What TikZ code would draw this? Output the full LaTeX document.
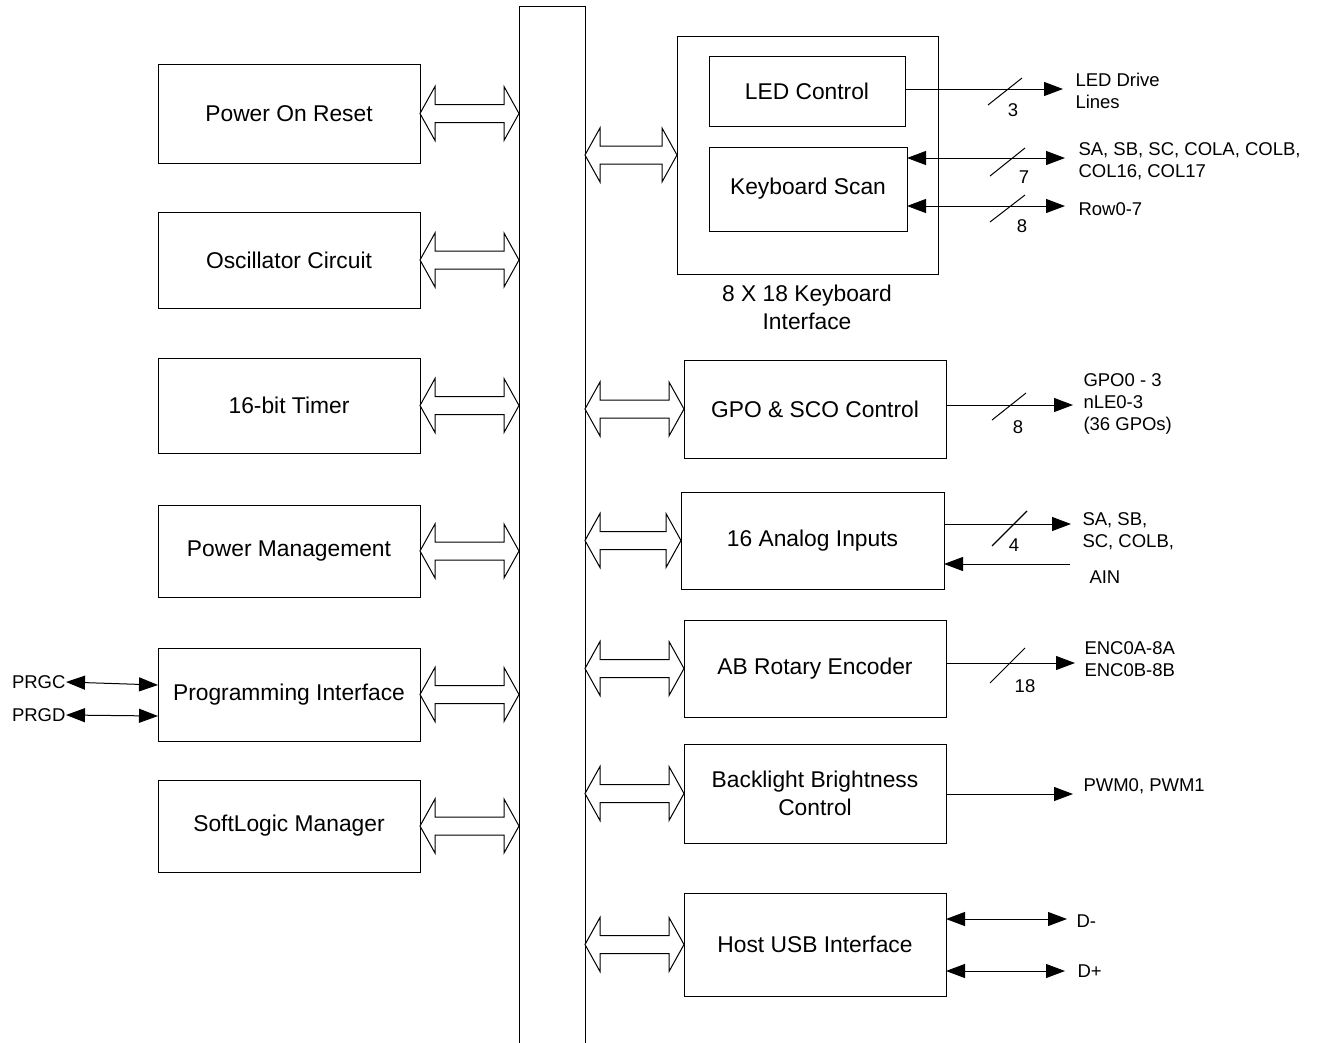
\documentclass[tikz,border=0pt]{standalone}
\usepackage{fontspec}
\setmainfont{Liberation Sans}
\usetikzlibrary{arrows.meta,calc}
\newcommand\hollowarrow[2]{%
  \draw[hollow] (#1) -- ++(15,-27) -- ++(0,18) -- ([shift={(-15,-9)}]#2) -- ++(0,-18) -- (#2)
    -- ++(-15,27) -- ++(0,-18) -- ([shift={(15,9)}]#1) -- ++(0,18) -- cycle;}
\begin{document}
\begin{tikzpicture}[x=1pt,y=-1pt, line width=1pt,
  box/.style={draw, inner sep=0pt, outer sep=0pt, anchor=north west, align=center,
    font=\fontsize{22.8}{28}\selectfont},
  lbl/.style={inner sep=0pt, anchor=west, align=left, font=\fontsize{18.5}{22}\selectfont},
  num/.style={inner sep=0pt, font=\fontsize{18.5}{22}\selectfont},
  hollow/.style={draw, fill=white, line width=1pt, line join=miter},
  sig/.style={-{Triangle[length=19pt,width=14pt]}},
  bsig/.style={{Triangle[length=19pt,width=14pt]}-{Triangle[length=19pt,width=14pt]}},
  slash/.style={line width=1pt}]
\useasboundingbox (0,0) rectangle (1320,1042);

% bus
\node[draw=none, inner sep=0pt, outer sep=0pt, minimum width=66pt, minimum height=1040pt, anchor=north west] (bus) at (519,6) {};
\draw (bus.south west) |- (bus.north east) -- (bus.south east);

% left blocks
\node[box, minimum width=262pt, minimum height=99pt] (por) at (158,64) {Power On Reset};
\node[box, minimum width=262pt, minimum height=96pt] (osc) at (158,212) {Oscillator Circuit};
\node[box, minimum width=262pt, minimum height=95pt] (tmr) at (158,358) {16-bit Timer};
\node[box, minimum width=262pt, minimum height=92pt] (pwr) at (158,505) {Power Management};
\node[box, minimum width=262pt, minimum height=93pt] (prg) at (158,648) {Programming Interface};
\node[box, minimum width=262pt, minimum height=92pt] (slm) at (158,780) {SoftLogic Manager};

% right blocks
\node[box, minimum width=261pt, minimum height=238pt] (kbd) at (677,36) {};
\node[box, minimum width=196pt, minimum height=70pt] (led) at (709,56) {LED Control};
\node[box, minimum width=198pt, minimum height=84pt] (kscan) at (709,147) {Keyboard Scan};
\node[align=center, inner sep=0pt, font=\fontsize{22.8}{28}\selectfont] (kbdlbl) at (807,307) {8 X 18 Keyboard\\Interface};
\node[box, minimum width=262pt, minimum height=98pt] (gpo) at (684,360) {GPO \& SCO Control};
\node[box, minimum width=263pt, minimum height=97pt] (ana) at (681,492) {16 Analog Inputs};
\node[box, minimum width=262pt, minimum height=97pt] (enc) at (684,620) {AB Rotary Encoder};
\node[box, minimum width=262pt, minimum height=99pt] (bl) at (684,744) {Backlight Brightness\\Control};
\node[box, minimum width=262pt, minimum height=103pt] (usb) at (684,893) {Host USB Interface};

% hollow bus arrows
\foreach \n in {por,osc,tmr,pwr,prg,slm}{
  \coordinate (\n-b) at (\n.east -| bus.west);
  \hollowarrow{\n.east}{\n-b}
}
\foreach \n in {kbd,gpo,ana,enc,bl,usb}{
  \coordinate (\n-b) at (\n.west -| bus.east);
  \hollowarrow{\n-b}{\n.west}
}

% LED drive lines
\coordinate (ledE) at (1063,89);
\draw[sig] (led.east |- ledE) -- (ledE);
\draw[slash] (988,105) -- (1022,78);
\node[num] (n3) at (1013,110) {3};
\node[lbl] (ledlbl) at (1075,91) {LED Drive\\Lines};

% keyboard scan lines
\coordinate (ks1) at (1065,158);
\draw[bsig] (kscan.east |- ks1) -- (ks1);
\draw[slash] (990,176) -- (1025,148);
\node[num] (n7) at (1024,177) {7};
\node[lbl] (kslbl) at (1078,161) {SA, SB, SC, COLA, COLB,\\COL16, COL17};
\coordinate (ks2) at (1065,206);
\draw[bsig] (kscan.east |- ks2) -- (ks2);
\draw[slash] (990,222) -- (1025,195);
\node[num] (n8a) at (1022,226) {8};
\node[lbl] (rowlbl) at (1078,209) {Row0-7};

% GPO
\coordinate (g1) at (1073,405);
\draw[sig] (gpo.east |- g1) -- (g1);
\draw[slash] (992,420) -- (1026,393);
\node[num] (n8b) at (1018,427) {8};
\node[lbl] (gpolbl) at (1083,404) {GPO0 - 3\\nLE0-3\\(36 GPOs)};

% Analog
\coordinate (a1) at (1071,524);
\draw[sig] (ana.east |- a1) -- (a1);
\draw[line width=1.3pt] (992,546) -- (1027,511);
\node[num] (n4) at (1014,545) {4};
\node[lbl] (analbl) at (1082,531) {SA, SB,\\SC, COLB,};
\coordinate (a2) at (1070,564);
\draw[sig] (a2) -- (ana.east |- a2);
\node[lbl] (ainlbl) at (1089,577) {AIN};

% Encoder
\coordinate (e1) at (1075,663);
\draw[sig] (enc.east |- e1) -- (e1);
\draw[slash] (990,683) -- (1025,648);
\node[num] (n18) at (1025,686) {18};
\node[lbl] (enclbl) at (1084,659) {ENC0A-8A\\ENC0B-8B};

% Backlight
\coordinate (b1) at (1073,794);
\draw[sig] (bl.east |- b1) -- (b1);
\node[lbl] (pwmlbl) at (1083,786) {PWM0, PWM1};

% USB
\coordinate (u1) at (1067,919);
\draw[bsig] (usb.east |- u1) -- (u1);
\node[lbl] (dmlbl) at (1076,921) {D-};
\coordinate (u2) at (1065,971);
\draw[bsig] (usb.east |- u2) -- (u2);
\node[lbl] (dplbl) at (1077,971) {D+};

% programming lines
\node[lbl, anchor=east] (prgc) at (66,682) {PRGC};
\node[lbl, anchor=east] (prgd) at (66,715) {PRGD};
\coordinate (pc) at ($(prg.west)+(0,-9.5)$);
\coordinate (pd) at ($(prg.west)+(0,21.5)$);
\draw[bsig] (prgc.east) -- (pc);
\draw[bsig] (prgd.east) -- (pd);
\end{tikzpicture}
\end{document}
